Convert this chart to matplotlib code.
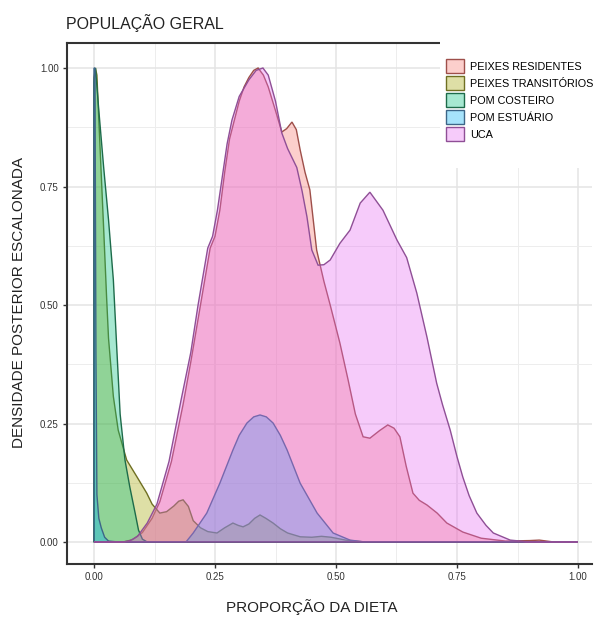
import matplotlib
matplotlib.use("Agg")
import matplotlib.pyplot as plt
from matplotlib.colors import to_rgba
from matplotlib.patches import Patch, Rectangle

plt.rcParams['font.family'] = ['Liberation Sans', 'DejaVu Sans']

# series names and ggplot default hue colours
labels = ['PEIXES RESIDENTES', 'PEIXES TRANSITÓRIOS', 'POM COSTEIRO',
          'POM ESTUÁRIO', 'UCA']
fills = ['#F8766D', '#A3A500', '#00BF7D', '#00B0F6', '#E76BF3']
edges = ['#9e4f4a', '#6f6f22', '#1d6b4a', '#3d6688', '#8f4f96']

# scaled posterior densities
res_x = [0.0, 0.06, 0.08, 0.10, 0.12, 0.136, 0.16, 0.184, 0.20, 0.22, 0.24,
         0.25, 0.26, 0.27, 0.28, 0.29, 0.30, 0.31, 0.32, 0.33, 0.339, 0.35,
         0.36, 0.375, 0.388, 0.398, 0.409, 0.418, 0.426, 0.436, 0.446, 0.46,
         0.475, 0.488, 0.508, 0.525, 0.54, 0.556, 0.57, 0.59, 0.607, 0.62,
         0.632, 0.645, 0.659, 0.672, 0.688, 0.709, 0.729, 0.762, 0.80, 0.85,
         0.90, 0.92, 0.95, 1.0]
res_y = [0.0, 0.0, 0.005, 0.02, 0.05, 0.085, 0.17, 0.29, 0.38, 0.50, 0.62,
         0.645, 0.70, 0.78, 0.85, 0.89, 0.93, 0.96, 0.98, 0.995, 1.0, 0.985,
         0.96, 0.91, 0.865, 0.872, 0.886, 0.87, 0.827, 0.78, 0.743, 0.616,
         0.55, 0.50, 0.42, 0.342, 0.27, 0.222, 0.219, 0.235, 0.247, 0.24,
         0.222, 0.16, 0.103, 0.088, 0.078, 0.061, 0.04, 0.021, 0.008, 0.002,
         0.003, 0.004, 0.0, 0.0]

tra_x = [0.0, 0.0, 0.003, 0.006, 0.01, 0.015, 0.02, 0.026, 0.03, 0.04, 0.05,
         0.0675, 0.089, 0.109, 0.12, 0.136, 0.15, 0.165, 0.175, 0.184, 0.195,
         0.205, 0.22, 0.235, 0.254, 0.27, 0.287, 0.298, 0.308, 0.32, 0.332,
         0.343, 0.355, 0.37, 0.385, 0.40, 0.426, 0.45, 0.47, 0.49, 0.52,
         0.56, 1.0]
tra_y = [0.0, 0.98, 1.0, 0.985, 0.89, 0.775, 0.66, 0.517, 0.43, 0.307, 0.236,
         0.173, 0.137, 0.103, 0.08, 0.061, 0.064, 0.076, 0.086, 0.089, 0.075,
         0.045, 0.03, 0.022, 0.019, 0.03, 0.04, 0.035, 0.032, 0.038, 0.05,
         0.057, 0.05, 0.04, 0.028, 0.019, 0.011, 0.01, 0.012, 0.01, 0.004,
         0.0, 0.0]

cos_x = [0.0, 0.0, 0.003, 0.01, 0.02, 0.03, 0.04, 0.047, 0.054, 0.064, 0.074,
         0.085, 0.092, 0.10, 0.11, 1.0]
cos_y = [0.0, 0.97, 1.0, 0.91, 0.79, 0.68, 0.553, 0.41, 0.27, 0.173, 0.116,
         0.061, 0.025, 0.006, 0.0, 0.0]

est_x = [0.0, 0.0, 0.002, 0.004, 0.006, 0.01, 0.015, 0.022, 0.03, 0.05, 0.19,
         0.205, 0.233, 0.26, 0.287, 0.30, 0.316, 0.33, 0.343, 0.356, 0.37,
         0.385, 0.399, 0.426, 0.461, 0.494, 0.529, 0.56, 1.0]
est_y = [0.0, 1.0, 1.0, 0.4, 0.1, 0.05, 0.03, 0.01, 0.002, 0.0, 0.0, 0.019,
         0.061, 0.124, 0.194, 0.225, 0.251, 0.264, 0.268, 0.264, 0.251, 0.225,
         0.194, 0.124, 0.061, 0.019, 0.004, 0.0, 0.0]

uca_x = [0.0, 0.06, 0.075, 0.09, 0.11, 0.13, 0.155, 0.18, 0.20, 0.215, 0.235,
         0.245, 0.255, 0.265, 0.275, 0.285, 0.30, 0.32, 0.335, 0.349, 0.36,
         0.375, 0.388, 0.40, 0.419, 0.43, 0.44, 0.45, 0.463, 0.475, 0.488,
         0.508, 0.529, 0.55, 0.57, 0.597, 0.626, 0.646, 0.667, 0.688, 0.708,
         0.72, 0.736, 0.75, 0.762, 0.775, 0.791, 0.81, 0.825, 0.86, 0.90, 1.0]
uca_y = [0.0, 0.0, 0.003, 0.012, 0.04, 0.08, 0.17, 0.30, 0.40, 0.50, 0.62,
         0.645, 0.70, 0.77, 0.84, 0.89, 0.94, 0.975, 0.995, 1.0, 0.985, 0.93,
         0.863, 0.83, 0.79, 0.74, 0.686, 0.616, 0.584, 0.585, 0.595, 0.63,
         0.658, 0.715, 0.738, 0.70, 0.637, 0.60, 0.525, 0.432, 0.335, 0.29,
         0.236, 0.18, 0.137, 0.098, 0.061, 0.035, 0.019, 0.004, 0.0, 0.0]

series = [(res_x, res_y), (tra_x, tra_y), (cos_x, cos_y), (est_x, est_y),
          (uca_x, uca_y)]

W, H = 597, 617
fig = plt.figure(figsize=(W / 100, H / 100), dpi=100)
ax = fig.add_axes([67 / W, 1 - 564 / H, (592 - 67) / W, (564 - 43) / H])
ax.set_xlim((67 - 94) / 484, (592 - 94) / 484)
ax.set_ylim((542 - 564) / 474, (542 - 43) / 474)

for (xs, ys), fc, ec in zip(series, fills, edges):
    ax.fill(xs + [xs[0]], ys + [0.0], facecolor=to_rgba(fc, 0.35),
            edgecolor=ec, linewidth=1.0, zorder=2)

ticks = [0.0, 0.25, 0.5, 0.75, 1.0]
ax.set_xticks(ticks)
ax.set_yticks(ticks)
ax.set_xticks([0.125, 0.375, 0.625, 0.875], minor=True)
ax.set_yticks([0.125, 0.375, 0.625, 0.875], minor=True)
ax.set_xticklabels(['%.2f' % t for t in ticks])
ax.set_yticklabels(['%.2f' % t for t in ticks])
ax.grid(which='major', color='#e4e4e4', linewidth=1.1)
ax.grid(which='minor', color='#ededed', linewidth=0.7)
ax.set_axisbelow(True)
ax.tick_params(which='major', length=3, width=1, color='#333333',
               labelsize=7, labelcolor='#333333', pad=3)
ax.tick_params(which='minor', length=0)

for side in ['left', 'bottom', 'top']:
    ax.spines[side].set_color('#333333')
    ax.spines[side].set_linewidth(1.5)
ax.spines['right'].set_visible(False)

# white legend background that also hides the end of the top line
fig.patches.append(Rectangle((440 / W, 1 - 168 / H), (W - 440) / W, 140 / H,
                             transform=fig.transFigure, facecolor='white',
                             edgecolor='none', zorder=3))

handles = [Patch(facecolor=to_rgba(fc, 0.35), edgecolor=ec, linewidth=1.0)
           for fc, ec in zip(fills, edges)]
leg = fig.legend(handles, labels, loc='upper left',
                 bbox_to_anchor=(446 / W, 1 - 59 / H), frameon=False,
                 fontsize=7.8, handlelength=1.65, handleheight=1.65,
                 labelspacing=0.25, handletextpad=0.55, borderpad=0,
                 borderaxespad=0)
leg.set_zorder(4)

fig.text(66 / W, 1 - 23 / H, 'POPULAÇÃO GERAL', fontsize=11.5,
         va='center', ha='left', color='#222222')
fig.text(19 / W, 1 - 302 / H, 'DENSIDADE POSTERIOR ESCALONADA', fontsize=11,
         rotation=90, va='center', ha='center', color='#222222')
fig.text(312 / W, 1 - 607 / H, 'PROPORÇÃO DA DIETA', fontsize=11,
         va='center', ha='center', color='#222222')

fig.savefig('out.png', dpi=100)
